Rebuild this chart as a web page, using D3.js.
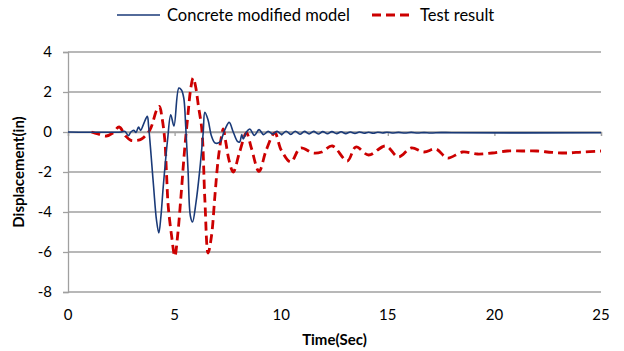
<!DOCTYPE html>
<html>
<head>
<meta charset="utf-8">
<script src="https://cdn.jsdelivr.net/npm/d3@7"></script>
<style>
  body { margin: 0; background: #fff; }
  text { font-family: Lato, "Open Sans", sans-serif; fill: #000; }
</style>
</head>
<body>
<svg width="624" height="351"></svg>
<script>
// series: [time (s), displacement (in)]
const modelSeries = [
  [0, 0], [2.5, 0], [2.67, 0.03], [2.83, -0.18], [2.95, 0], [3.09, 0.08], [3.19, -0.02],
  [3.31, 0.25], [3.41, 0.08], [3.53, 0.36], [3.72, 0.78], [3.78, 0.3], [3.9, -1.2],
  [4.02, -2.8], [4.15, -4.4], [4.26, -5.05], [4.36, -4.2], [4.47, -2.7], [4.67, -0.4],
  [4.82, 0.86], [4.97, 0.3], [5.2, 2.2], [5.32, 2.1], [5.43, 1.7], [5.52, 0.3],
  [5.63, -1.9], [5.74, -4.2], [5.84, -4.5], [6.0, -3.55], [6.18, -1.9], [6.34, -0.05],
  [6.42, 0.98], [6.57, 0.6], [6.73, -0.2], [6.9, -0.55], [7.12, -0.5], [7.35, 0.1],
  [7.56, 0.48], [7.75, 0.0], [7.95, -0.47], [8.05, -0.5], [8.15, -0.13], [8.22, -0.35],
  [8.37, 0.0], [8.53, 0.15], [8.74, -0.17], [8.96, 0.12], [9.17, -0.13], [9.39, 0.03],
  [9.6, -0.1], [9.81, 0.03], [10.02, -0.12], [10.23, 0.04], [10.45, -0.12], [10.66, 0.04],
  [10.88, -0.11], [11.09, 0.03], [11.31, -0.1], [11.52, 0.03], [11.74, -0.1], [11.95, 0.02],
  [12.17, -0.09], [12.38, 0.02], [12.6, -0.08], [12.81, 0.01], [13.03, -0.08], [13.24, 0.0],
  [13.46, -0.07], [13.67, 0.0], [13.89, -0.06], [14.1, -0.01], [14.32, -0.06], [14.53, -0.01],
  [14.75, -0.05], [14.96, -0.01], [15.2, -0.05], [15.5, -0.02], [15.8, -0.05], [16.1, -0.02],
  [16.4, -0.05], [16.7, -0.03], [17.0, -0.05], [17.5, -0.03], [18, -0.04], [25, -0.04]
];

const testSeries = [
  [1.1, 0], [1.4, -0.1], [1.8, -0.2], [2.1, -0.05], [2.4, 0.25], [2.7, -0.2], [2.95, -0.42],
  [3.2, -0.42], [3.45, -0.35], [3.84, 0.1], [4.16, 1.1], [4.29, 1.28], [4.4, 0.78],
  [4.54, -0.4], [4.62, -2.05], [4.7, -3.7], [4.86, -5.2], [5.01, -6.22], [5.14, -5.2],
  [5.3, -3.2], [5.46, -1.0], [5.62, 0.8], [5.76, 2.2], [5.87, 2.7], [5.98, 2.3], [6.12, 1.28],
  [6.28, 0.1], [6.42, -3.4], [6.57, -6.05], [6.73, -5.2], [6.89, -3.2], [7.04, -1.4],
  [7.2, -0.22], [7.28, 0.15], [7.4, -0.5], [7.55, -1.4], [7.75, -2.0], [8.05, -1.0],
  [8.37, -0.05], [8.6, -0.8], [8.96, -1.97], [9.3, -0.9], [9.7, -0.05], [10.0, -0.9],
  [10.45, -1.5], [10.9, -0.8], [11.5, -1.05], [11.9, -1.0], [12.4, -0.7], [13.1, -1.45],
  [13.5, -0.75], [14.1, -1.15], [14.9, -0.7], [15.5, -1.25], [16.1, -0.8], [16.7, -1.0],
  [17.25, -0.85], [17.8, -1.3], [18.5, -1.0], [19.2, -1.1], [19.9, -1.05], [20.6, -0.95],
  [21.3, -0.95], [22.0, -0.95], [22.7, -1.02], [23.4, -1.05], [24.1, -1.0], [25, -0.95]
];

const xTicks = [0, 5, 10, 15, 20, 25];
const yTicks = [4, 2, 0, -2, -4, -6, -8];
const seriesNames = ["Concrete modified model", "Test result"];

const plotLeft = 68, plotRight = 601, plotTop = 52, plotBottom = 292;

const x = d3.scaleLinear().domain([0, 25]).range([plotLeft, plotRight]);
const y = d3.scaleLinear().domain([-8, 4]).range([plotBottom, plotTop]);

const svg = d3.select("svg");

// horizontal gridlines
svg.append("g")
  .selectAll("line")
  .data(yTicks)
  .enter()
  .append("line")
  .attr("x1", plotLeft)
  .attr("x2", plotRight)
  .attr("y1", d => y(d))
  .attr("y2", d => y(d))
  .attr("stroke", "#a0a0a0")
  .attr("stroke-width", 1.3);

// y axis (plain hyphen for negatives, like the original)
const yAxis = svg.append("g")
  .attr("transform", "translate(" + plotLeft + ",0)")
  .call(d3.axisLeft(y).tickValues(yTicks).tickSize(5).tickPadding(11).tickFormat(d => String(d)));
yAxis.select(".domain").attr("stroke", "#a0a0a0").attr("stroke-width", 1.3);
yAxis.selectAll(".tick line").attr("stroke", "#a0a0a0").attr("stroke-width", 1.3);
yAxis.selectAll("text").style("font-size", "15px").style("fill", "#000");

// x axis sits on zero, labels go to the bottom
const xAxis = svg.append("g")
  .attr("transform", "translate(0," + y(0) + ")")
  .call(d3.axisBottom(x).tickValues(xTicks).tickSize(4).tickFormat(""));
xAxis.select(".domain").attr("stroke", "#a0a0a0").attr("stroke-width", 1.3);
xAxis.selectAll(".tick line").attr("stroke", "#a0a0a0").attr("stroke-width", 1.3);

svg.append("g")
  .selectAll("text")
  .data(xTicks)
  .enter()
  .append("text")
  .attr("x", d => x(d))
  .attr("y", 320)
  .attr("text-anchor", "middle")
  .style("font-size", "15px")
  .text(d => d);

// axis titles
svg.append("text")
  .attr("x", (plotLeft + plotRight) / 2)
  .attr("y", 345)
  .attr("text-anchor", "middle")
  .style("font-size", "15px")
  .style("font-weight", "bold")
  .text("Time(Sec)");

svg.append("text")
  .attr("transform", "translate(24," + (plotTop + plotBottom) / 2 + ") rotate(-90)")
  .attr("text-anchor", "middle")
  .style("font-size", "15px")
  .style("font-weight", "bold")
  .text("Displacement(in)");

const line = d3.line()
  .x(d => x(d[0]))
  .y(d => y(d[1]))
  .curve(d3.curveCatmullRom.alpha(0.5));

svg.append("path")
  .datum(testSeries)
  .attr("d", line)
  .attr("fill", "none")
  .attr("stroke", "#cc0000")
  .attr("stroke-width", 2.8)
  .attr("stroke-dasharray", "9,5");

svg.append("path")
  .datum(modelSeries)
  .attr("d", line)
  .attr("fill", "none")
  .attr("stroke", "#1a3a78")
  .attr("stroke-width", 1.6);

// legend
svg.append("line")
  .attr("x1", 117).attr("x2", 160).attr("y1", 15).attr("y2", 15)
  .attr("stroke", "#1a3a78").attr("stroke-width", 1.6);
svg.append("text")
  .attr("x", 167).attr("y", 21)
  .style("font-size", "16.5px")
  .text(seriesNames[0]);
svg.append("line")
  .attr("x1", 372).attr("x2", 412).attr("y1", 15).attr("y2", 15)
  .attr("stroke", "#cc0000").attr("stroke-width", 2.8)
  .attr("stroke-dasharray", "9,5");
svg.append("text")
  .attr("x", 420).attr("y", 21)
  .style("font-size", "16.5px")
  .text(seriesNames[1]);
</script>
</body>
</html>
